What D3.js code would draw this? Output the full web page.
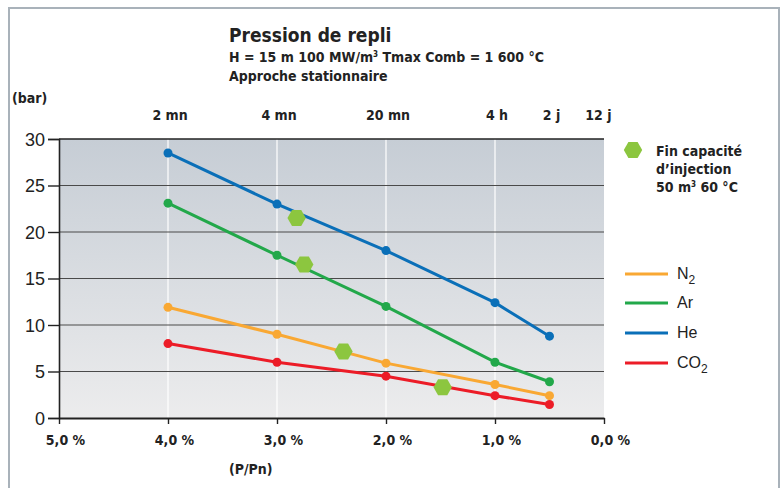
<!DOCTYPE html>
<html><head><meta charset="utf-8">
<script src="https://cdn.jsdelivr.net/npm/d3@7"></script>
<style>
body{margin:0;background:#fff;}
svg{display:block;}
.cond{font-family:"Liberation Sans Narrow","Arial Narrow","DejaVu Sans Condensed",sans-serif;font-weight:bold;}
.reg{font-family:"Liberation Sans",Arial,sans-serif;}
</style></head>
<body>
<svg id="c" width="781" height="488"></svg>
<script>
// ---- data ----
const pctPoints = [4, 3, 2, 1, 0.5];
const seriesNames = ["N2", "Ar", "He", "CO2"];
const valuesHe  = [28.5, 23.0, 18.0, 12.4, 8.8];
const valuesAr  = [23.1, 17.5, 12.0, 6.0, 3.9];
const valuesN2  = [11.9, 9.0, 5.9, 3.6, 2.4];
const valuesCO2 = [8.0, 6.0, 4.5, 2.4, 1.45];
const seriesColors = {N2:"#f9a833", Ar:"#22a84a", He:"#0a6fb8", CO2:"#ec1c27"};
const hexPct = [2.82, 2.75, 2.39, 1.48];
const hexVal = [21.5, 16.5, 7.15, 3.3];
const yTicks = [0, 5, 10, 15, 20, 25, 30];
const xTicks = [5, 4, 3, 2, 1, 0];
const xTickLabels = ["5,0 %", "4,0 %", "3,0 %", "2,0 %", "1,0 %", "0,0 %"];
const timeLabels = ["2 mn", "4 mn", "20 mn", "4 h", "2 j", "12 j"];
const timePct = [4, 3, 2, 1, 0.5, 0.07];

const svg = d3.select("#c");
const x = d3.scaleLinear().domain([5, 0]).range([59, 604]);
const y = d3.scaleLinear().domain([0, 30]).range([418, 139]);

// frame
svg.append("rect").attr("x", 9).attr("y", 8).attr("width", 770).attr("height", 490)
  .attr("fill", "#fff").attr("stroke", "#a9b2ba").attr("stroke-width", 2);

// plot background gradient
const defs = svg.append("defs");
const g = defs.append("linearGradient").attr("id", "bg").attr("x1", 0).attr("x2", 0).attr("y1", 0).attr("y2", 1);
g.append("stop").attr("offset", "0%").attr("stop-color", "#c6cdd5");
g.append("stop").attr("offset", "100%").attr("stop-color", "#ececed");
svg.append("rect").attr("x", x(5)).attr("y", y(30)).attr("width", x(0) - x(5)).attr("height", y(0) - y(30))
  .attr("fill", "url(#bg)");

// vertical white lines
svg.append("g").selectAll("line").data(xTicks.filter(d => d > 0 && d < 5)).join("line")
  .attr("x1", d => x(d)).attr("x2", d => x(d)).attr("y1", y(30)).attr("y2", y(0))
  .attr("stroke", "#fff").attr("stroke-width", 1.2);

// horizontal grid
svg.append("g").selectAll("line").data(yTicks.filter(d => d > 0)).join("line")
  .attr("x1", x(5)).attr("x2", x(0)).attr("y1", d => y(d)).attr("y2", d => y(d))
  .attr("stroke", d => d === 30 ? "#222" : "#4a4a4a").attr("stroke-width", d => d === 30 ? 1.6 : 1.2);

// left axis
const ya = svg.append("g").attr("transform", `translate(${x(5)},0)`)
  .call(d3.axisLeft(y).tickValues(yTicks).tickSize(11).tickPadding(3));
ya.select(".domain").attr("stroke", "#222").attr("stroke-width", 1.6);
ya.selectAll(".tick line").attr("stroke", "#222").attr("stroke-width", 1.4);
ya.selectAll("text").attr("class", "reg").attr("font-size", 18).attr("fill", "#222").attr("dy", "0.36em");

// bottom axis
const xa = svg.append("g").attr("transform", `translate(0,${y(0)})`)
  .call(d3.axisBottom(x).tickValues(xTicks).tickSize(6).tickSizeOuter(0).tickFormat((d, i) => xTickLabels[i]));
xa.select(".domain").attr("stroke", "#222").attr("stroke-width", 1.8);
xa.selectAll(".tick line").attr("stroke", "#222").attr("stroke-width", 1.4);
xa.selectAll("text").attr("class", "cond").attr("font-size", 14).attr("fill", "#222").attr("dx", 6).attr("y", 17);

// top time labels
svg.append("g").selectAll("text").data(timeLabels).join("text")
  .attr("class", "cond").attr("font-size", 14).attr("fill", "#222")
  .attr("x", (d, i) => x(timePct[i]) + 2).attr("y", 120).attr("text-anchor", "middle").text(d => d);

// lines
const seriesData = {N2: valuesN2, Ar: valuesAr, He: valuesHe, CO2: valuesCO2};
const line = d3.line().x((d, i) => x(pctPoints[i])).y(d => y(d));
["He", "Ar", "N2", "CO2"].forEach(name => {
  const vals = seriesData[name];
  svg.append("path").datum(vals).attr("d", line).attr("fill", "none")
    .attr("stroke", seriesColors[name]).attr("stroke-width", 3);
  svg.append("g").selectAll("circle").data(vals).join("circle")
    .attr("cx", (d, i) => x(pctPoints[i])).attr("cy", d => y(d)).attr("r", 4.5)
    .attr("fill", seriesColors[name]);
});

// hexagons
function hexPath(cx, cy, r) {
  const pts = d3.range(6).map(k => {
    const a = Math.PI / 3 * k;
    return [cx + r * Math.cos(a), cy + r * Math.sin(a)];
  });
  return "M" + pts.map(p => p.join(",")).join("L") + "Z";
}
svg.append("g").selectAll("path").data(hexPct).join("path")
  .attr("d", (d, i) => hexPath(x(d), y(hexVal[i]), 9.2)).attr("fill", "#8cc63f");

// legend: hexagon
svg.append("path").attr("d", hexPath(633, 150, 9.2)).attr("fill", "#8cc63f");
const lt = svg.append("text").attr("class", "cond").attr("font-size", 14).attr("fill", "#222");
lt.append("tspan").attr("x", 656).attr("y", 156).text("Fin capacité");
lt.append("tspan").attr("x", 656).attr("y", 174).text("d’injection");
const l3 = lt.append("tspan").attr("x", 656).attr("y", 192).text("50 m");
l3.append("tspan").attr("font-size", 8).attr("dy", -5).text("3");
l3.append("tspan").attr("dy", 5).text(" 60 °C");

// legend: series
const legendY = [274, 303, 333, 363];
seriesNames.forEach((name, i) => {
  svg.append("line").attr("x1", 625).attr("x2", 668).attr("y1", legendY[i]).attr("y2", legendY[i])
    .attr("stroke", seriesColors[name]).attr("stroke-width", 3);
  const t = svg.append("text").attr("class", "reg").attr("font-size", 16).attr("fill", "#222")
    .attr("x", 677).attr("y", legendY[i] + 5);
  if (name === "N2") { t.append("tspan").text("N"); t.append("tspan").attr("font-size", 12).attr("dy", 5).text("2"); }
  else if (name === "CO2") { t.append("tspan").text("CO"); t.append("tspan").attr("font-size", 12).attr("dy", 5).text("2"); }
  else t.text(name);
});

// titles
svg.append("text").attr("class", "cond").attr("font-size", 19).attr("fill", "#222")
  .attr("x", 229).attr("y", 42).text("Pression de repli");
const st = svg.append("text").attr("class", "cond").attr("font-size", 14).attr("fill", "#222")
  .attr("x", 229).attr("y", 62);
st.append("tspan").text("H = 15 m 100 MW/m");
st.append("tspan").attr("font-size", 8).attr("dy", -5).text("3");
st.append("tspan").attr("dy", 5).text(" Tmax Comb = 1 600 °C");
svg.append("text").attr("class", "cond").attr("font-size", 14).attr("fill", "#222")
  .attr("x", 229).attr("y", 81).text("Approche stationnaire");
svg.append("text").attr("class", "cond").attr("font-size", 14).attr("fill", "#222")
  .attr("x", 12).attr("y", 103).text("(bar)");
svg.append("text").attr("class", "cond").attr("font-size", 14).attr("fill", "#222")
  .attr("x", 229).attr("y", 474).text("(P/Pn)");
</script>
</body></html>
